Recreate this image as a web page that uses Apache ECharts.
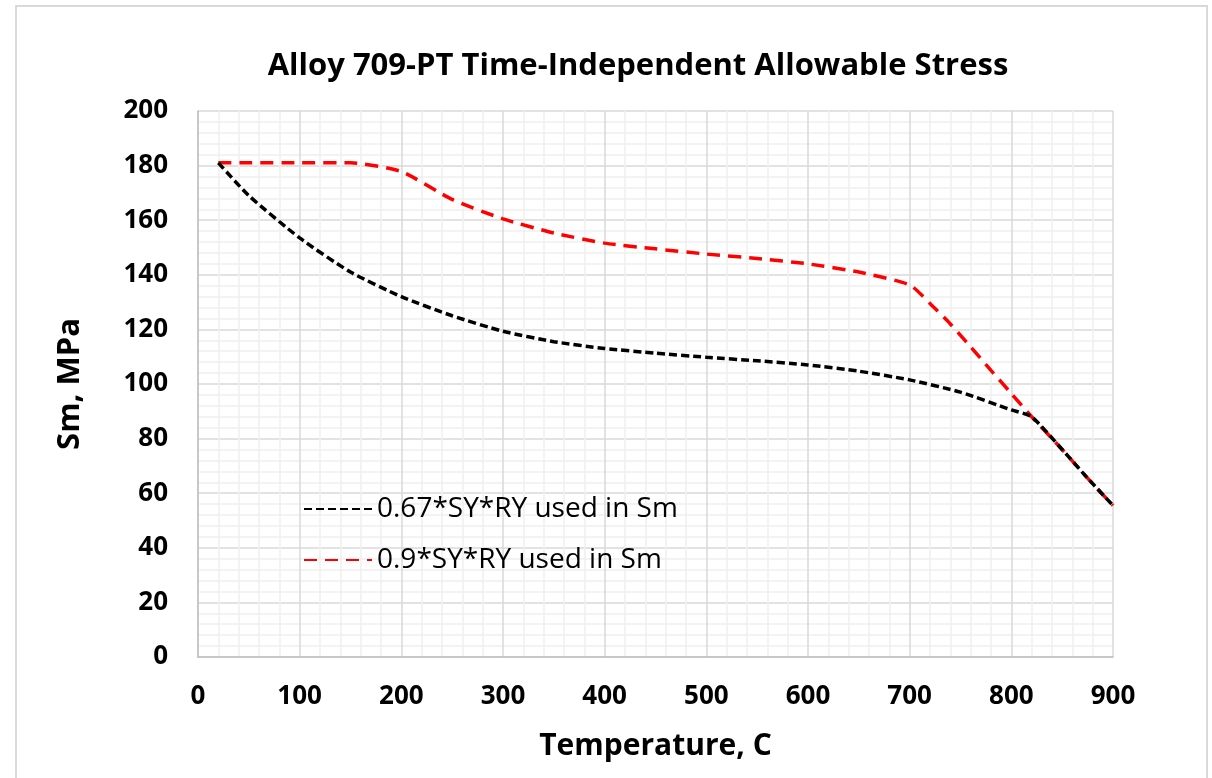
<!DOCTYPE html>
<html>
<head>
<meta charset="utf-8">
<script src="https://cdn.jsdelivr.net/npm/echarts@6/dist/echarts.min.js"></script>
<style>
  html, body { margin: 0; padding: 0; background: #fff; }
  #chart { width: 1212px; height: 778px; }
</style>
</head>
<body>
<div id="chart"></div>
<script>
// temperature (C) vs Sm (MPa)
const temps67 = [20, 50, 100, 150, 200, 250, 300, 350, 400, 450, 500, 550, 600, 650, 700, 750, 800, 820, 850, 875, 900];
const sm67 = [181, 169, 153.5, 141, 132, 125, 119.3, 115.5, 113, 111.3, 109.8, 108.5, 107, 104.7, 101.5, 97, 90.5, 88, 76, 65.5, 55.5];

const temps90 = [20, 50, 100, 150, 200, 250, 300, 350, 400, 450, 500, 550, 600, 650, 700, 720, 740, 760, 780, 800, 820, 850, 875, 900];
const sm90 = [181, 181, 181, 181, 177.8, 167.6, 160.5, 155.3, 151.6, 149.5, 147.6, 146, 144, 141, 136.3, 129.5, 122, 113.6, 105, 96.5, 88, 76, 65.5, 55.5];

const seriesNames = ["0.67*SY*RY used in Sm", "0.9*SY*RY used in Sm"];
const xTicks = { min: 0, max: 900, interval: 100 };
const yTicks = { min: 0, max: 200, interval: 20 };

const pairs = (xs, ys) => xs.map((x, i) => [x, ys[i]]);

const font = "'Open Sans', 'Noto Sans', sans-serif";
const chart = echarts.init(document.getElementById("chart"), null, { renderer: "canvas" });

chart.setOption({
  backgroundColor: "#fff",
  animation: false,
  title: {
    text: "Alloy 709-PT Time-Independent Allowable Stress",
    left: 633,
    textAlign: "center",
    top: 46,
    textStyle: { fontFamily: font, fontSize: 31, fontWeight: "bold", color: "#000" }
  },
  graphic: [{
    type: "rect",
    shape: { x: 16, y: 6, width: 1191, height: 790 },
    style: { fill: "none", stroke: "#d9d9d9", lineWidth: 2 },
    silent: true
  }],
  legend: {
    orient: "vertical",
    left: 298,
    top: 490,
    itemWidth: 68,
    itemHeight: 14,
    itemGap: 23,
    itemStyle: { opacity: 0 },
    textStyle: { fontFamily: font, fontSize: 28, color: "#000" },
    data: seriesNames
  },
  grid: { left: 198, right: 99, top: 111, bottom: 121 },
  xAxis: {
    type: "value",
    min: xTicks.min, max: xTicks.max, interval: xTicks.interval,
    name: "Temperature, C",
    nameLocation: "middle",
    nameGap: 74,
    nameTextStyle: { fontFamily: font, fontSize: 30, fontWeight: "bold", color: "#000" },
    axisLine: { show: true, lineStyle: { color: "#bfbfbf", width: 1.5 } },
    axisTick: { show: false },
    axisLabel: { margin: 27, fontFamily: font, fontSize: 26, fontWeight: "bold", color: "#000" },
    splitLine: { show: true, lineStyle: { color: "#d9d9d9", width: 1.5 } },
    minorTick: { show: false, splitNumber: 5 },
    minorSplitLine: { show: true, lineStyle: { color: "#efefef", width: 1.5 } }
  },
  yAxis: {
    type: "value",
    min: yTicks.min, max: yTicks.max, interval: yTicks.interval,
    name: "Sm, MPa",
    nameLocation: "middle",
    nameGap: 112,
    nameTextStyle: { fontFamily: font, fontSize: 31, fontWeight: "bold", color: "#000" },
    axisLine: { show: true, lineStyle: { color: "#bfbfbf", width: 1.5 } },
    axisTick: { show: false },
    axisLabel: { margin: 30, fontFamily: font, fontSize: 26, fontWeight: "bold", color: "#000" },
    splitLine: { show: true, lineStyle: { color: "#d9d9d9", width: 1.5 } },
    minorTick: { show: false, splitNumber: 5 },
    minorSplitLine: { show: true, lineStyle: { color: "#efefef", width: 1.5 } }
  },
  series: [
    {
      name: seriesNames[0],
      type: "line",
      data: pairs(temps67, sm67),
      smooth: 0.2,
      symbol: "none",
      color: "#000",
      lineStyle: { color: "#000", width: 3.5, type: [8, 4] },
      z: 3
    },
    {
      name: seriesNames[1],
      type: "line",
      data: pairs(temps90, sm90),
      smooth: 0.2,
      symbol: "none",
      color: "#ff0000",
      lineStyle: { color: "#ff0000", width: 3.5, type: [13, 8] },
      z: 2
    }
  ]
});
</script>
</body>
</html>
